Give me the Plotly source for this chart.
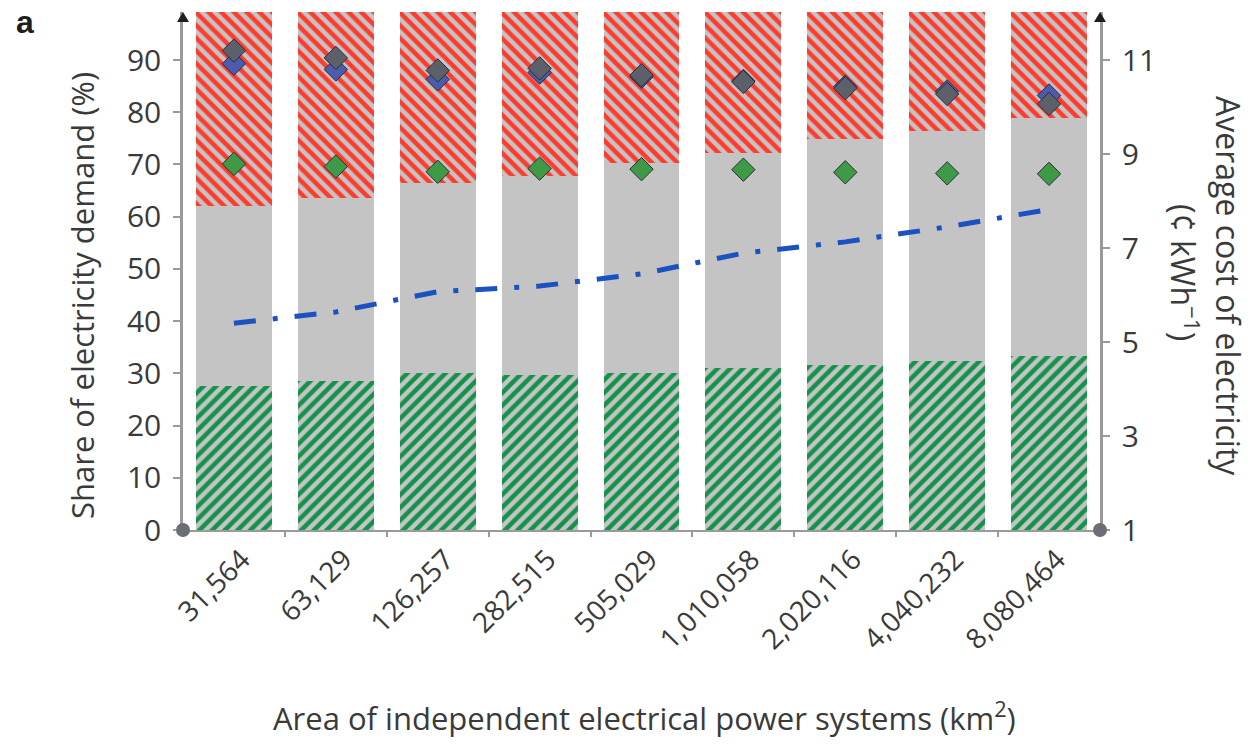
import plotly.graph_objects as go

# Area of independent electrical power systems (km²)
areas = ["31,564", "63,129", "126,257", "282,515", "505,029",
         "1,010,058", "2,020,116", "4,040,232", "8,080,464"]

# Stacked shares of electricity demand (%)
share_green = [27.6, 28.5, 30.0, 29.6, 30.1, 31.0, 31.6, 32.4, 33.4]
share_grey = [34.4, 35.0, 36.5, 38.2, 40.2, 41.1, 43.2, 44.0, 45.5]
share_red = [38.0, 36.5, 33.5, 32.2, 29.7, 27.9, 25.2, 23.6, 21.1]

# Diamond markers (%)
marker_grey = [91.8, 90.4, 88.0, 88.4, 87.1, 85.8, 84.6, 83.5, 81.6]
marker_blue = [89.3, 88.2, 86.3, 87.6, 86.8, 86.0, 84.9, 84.0, 83.2]
marker_green = [70.1, 69.6, 68.6, 69.2, 69.1, 69.0, 68.5, 68.3, 68.2]

# Average cost of electricity (¢ kWh⁻¹)
avg_cost = [5.40, 5.64, 6.07, 6.19, 6.45, 6.89, 7.13, 7.45, 7.82]

left_ticks = [0, 10, 20, 30, 40, 50, 60, 70, 80, 90]
right_ticks = [1, 3, 5, 7, 9, 11]

FONT = "Open Sans"
TXT = "#3a3a3a"
AXIS = "#9a9a9a"
BAR_BG = "#c4c4c4"

fig = go.Figure()

fig.add_bar(
    x=areas, y=share_green,
    marker=dict(color=BAR_BG, line_width=0,
                pattern=dict(shape="/", fgcolor="#14924a", bgcolor=BAR_BG,
                             size=9, solidity=0.5, fillmode="replace")),
)
fig.add_bar(
    x=areas, y=share_grey,
    marker=dict(color=BAR_BG, line_width=0),
)
fig.add_bar(
    x=areas, y=share_red,
    marker=dict(color=BAR_BG, line_width=0,
                pattern=dict(shape="\\", fgcolor="#ff3b2e", bgcolor=BAR_BG,
                             size=9, solidity=0.5, fillmode="replace")),
)

diamond_line = dict(color="#2a2d35", width=1)
fig.add_scatter(
    x=areas, y=marker_blue, mode="markers",
    marker=dict(symbol="diamond", size=18, color="#4b5cae", line=diamond_line),
)
fig.add_scatter(
    x=areas, y=marker_grey, mode="markers",
    marker=dict(symbol="diamond", size=18, color="#5c606b", line=diamond_line),
)
fig.add_scatter(
    x=areas, y=marker_green, mode="markers",
    marker=dict(symbol="diamond", size=18, color="#3f9a48", line=diamond_line),
)

fig.add_scatter(
    x=areas, y=avg_cost, yaxis="y2", mode="lines",
    line=dict(color="#1b52c2", width=5, dash="22px,17px,5px,17px"),
)

PLOT_L, PLOT_R, PLOT_T, PLOT_B = 183, 1100, 12, 530
PW, PH = PLOT_R - PLOT_L, PLOT_B - PLOT_T


def px(x):
    return (x - PLOT_L) / PW


def py(y):
    return (PLOT_B - y) / PH


shapes = []
# round end caps at the foot of both vertical axes
for xa in (0, 1):
    shapes.append(dict(
        type="circle", xref="paper", yref="paper",
        xsizemode="pixel", ysizemode="pixel", xanchor=xa, yanchor=0,
        x0=-7, x1=7, y0=-7, y1=7,
        fillcolor="#6b6f75", line=dict(width=0), layer="above",
    ))
    # arrow heads on top of both vertical axes
    shapes.append(dict(
        type="path", xref="paper", yref="paper",
        xsizemode="pixel", ysizemode="pixel", xanchor=xa, yanchor=1,
        path="M -6,-10 L 6,-10 L 0,0 Z",
        fillcolor="#1e1e1e", line=dict(width=0), layer="above",
    ))


def label(text, x, y, size, angle=0, family=FONT, color=TXT):
    return dict(text=text, x=px(x), y=py(y), xref="paper", yref="paper",
                xanchor="center", yanchor="middle", showarrow=False,
                textangle=angle, font=dict(family=family, size=size, color=color))


annotations = [
    label("<b>a</b>", 25, 22, 32, family="Liberation Sans", color="#1e1e1e"),
    label("Share of electricity demand (%)", 82, 296, 31, angle=-90),
    label("Average cost of electricity", 1229, 286, 32, angle=90),
    label("(¢ kWh<sup>−1</sup>)", 1185, 272, 32, angle=90),
    label("Area of independent electrical power systems (km<sup>2</sup>)", 644, 716, 31),
]

fig.update_layout(
    width=1252, height=744,
    margin=dict(l=PLOT_L, r=1252 - PLOT_R, t=PLOT_T, b=744 - PLOT_B),
    paper_bgcolor="white", plot_bgcolor="white",
    barmode="stack", bargap=0.255,
    showlegend=False,
    font=dict(family=FONT, color=TXT),
    shapes=shapes, annotations=annotations,
    xaxis=dict(
        type="category", range=[-0.5, 8.5],
        showline=True, linecolor=AXIS, linewidth=2,
        ticks="outside", tickson="boundaries", ticklen=5, tickcolor=AXIS, tickwidth=1.5,
        tickangle=-45, ticklabelshift=8, ticklabelstandoff=0,
        tickfont=dict(family=FONT, size=28, color=TXT),
        showgrid=False, zeroline=False,
    ),
    yaxis=dict(
        range=[0, PH / 5.222], tickvals=left_ticks,
        showline=True, linecolor=AXIS, linewidth=2.5,
        ticks="outside", ticklen=7, tickcolor=AXIS, tickwidth=1.5,
        ticklabelstandoff=6,
        tickfont=dict(family=FONT, size=30, color=TXT),
        showgrid=False, zeroline=False,
    ),
    yaxis2=dict(
        overlaying="y", side="right",
        range=[1, 1 + PH / 47.0], tickvals=right_ticks,
        showline=True, linecolor=AXIS, linewidth=2.5,
        ticks="outside", ticklen=7, tickcolor=AXIS, tickwidth=1.5,
        ticklabelstandoff=6,
        tickfont=dict(family=FONT, size=30, color=TXT),
        showgrid=False, zeroline=False,
    ),
)

fig.write_html("out.html")
